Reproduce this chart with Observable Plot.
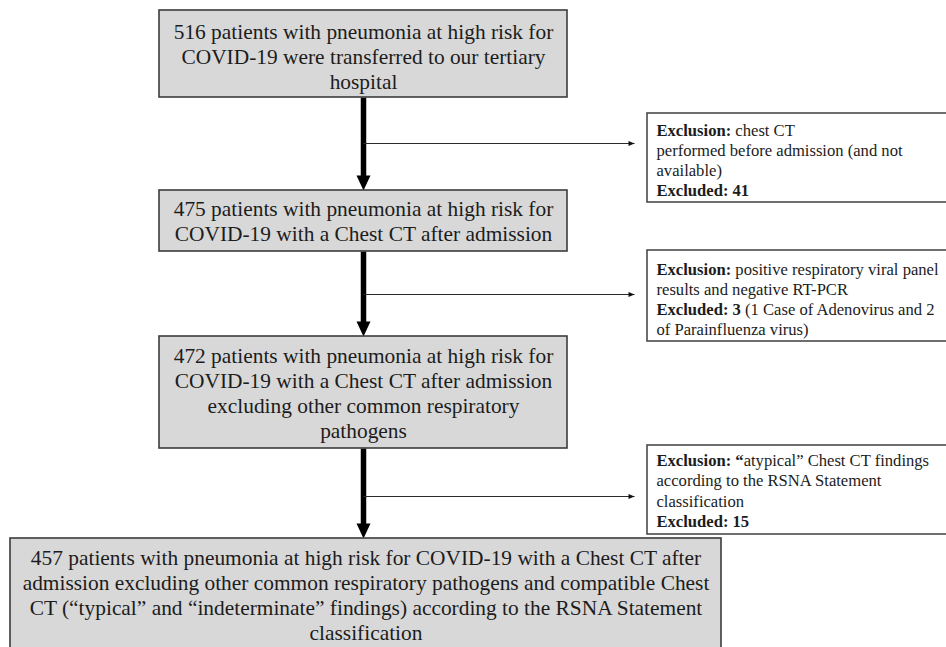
<!DOCTYPE html>
<html>
<head>
<meta charset="utf-8">
<script src="https://cdn.jsdelivr.net/npm/d3@7"></script>
<script src="https://cdn.jsdelivr.net/npm/@observablehq/plot@0.6"></script>
<style>
  html, body { margin: 0; padding: 0; background: #fff; overflow: hidden; }
  #chart svg { overflow: hidden; }
</style>
</head>
<body>
<div id="chart"></div>
<script>
// ---- Content (text of the flow diagram) ----
const patientCounts = [516, 475, 472, 457];
const mainText = [
  "516 patients with pneumonia at high risk for\nCOVID-19 were transferred to our tertiary\nhospital",
  "475 patients with pneumonia at high risk for\nCOVID-19 with a Chest CT after admission",
  "472 patients with pneumonia at high risk for\nCOVID-19 with a Chest CT after admission\nexcluding other common respiratory\npathogens",
  "457 patients with pneumonia at high risk for COVID-19 with a Chest CT after\nadmission excluding other common respiratory pathogens and compatible Chest\nCT (“typical” and “indeterminate” findings) according to the RSNA Statement\nclassification"
];
const excludedCounts = [41, 3, 15];
const exclusionText = [
  "**Exclusion:** chest CT\nperformed before admission (and not\navailable)\n**Excluded: 41**",
  "**Exclusion:** positive respiratory viral panel\nresults and negative RT-PCR\n**Excluded: 3** (1 Case of Adenovirus and 2\nof Parainfluenza virus)",
  "**Exclusion: “**atypical” Chest CT findings\naccording to the RSNA Statement\nclassification\n**Excluded: 15**"
];

// ---- Layout (pixel frame, identity scales) ----
const W = 946, H = 647;
const mainLayout = [
  {x1: 159, x2: 567, y1: 10,  y2: 97,  ty: 55.5},
  {x1: 159, x2: 567, y1: 190, y2: 251, ty: 220},
  {x1: 159, x2: 567, y1: 336, y2: 448, ty: 392},
  {x1: 10,  x2: 721, y1: 538, y2: 655, ty: 594}
];
const exclLayout = [
  {x1: 647, x2: 955, y1: 113, y2: 202, ty: 159},
  {x1: 647, x2: 955, y1: 250, y2: 341, ty: 298},
  {x1: 647, x2: 955, y1: 445, y2: 534, ty: 489.5}
];
const spineX = 363;
const branchY = [143, 294, 496];
const branchEndX = 634;

const mainBoxes = mainText.map((text, i) => ({text, count: patientCounts[i], ...mainLayout[i], cx: (mainLayout[i].x1 + mainLayout[i].x2) / 2}));
const exclBoxes = exclusionText.map((text, i) => ({text, count: excludedCounts[i], ...exclLayout[i]}));
const flows = d3.range(mainBoxes.length - 1).map(i => ({x: spineX, y1: mainBoxes[i].y2, y2: mainBoxes[i + 1].y1}));
const branches = branchY.map((y, i) => ({x1: spineX, x2: branchEndX, y, box: exclBoxes[i]}));

// Custom arrowhead symbols (tip at origin)
const headDown = {draw(ctx) { ctx.moveTo(-7, -15); ctx.lineTo(7, -15); ctx.lineTo(0, 0); ctx.closePath(); }};
const headRight = {draw(ctx) { ctx.moveTo(-6, -2.6); ctx.lineTo(0, 0); ctx.lineTo(-6, 2.6); ctx.closePath(); }};

const serif = "Liberation Serif, Times New Roman, DejaVu Serif, serif";

const plot = Plot.plot({
  width: W,
  height: H,
  margin: 0,
  x: {domain: [0, W], range: [0, W], axis: null},
  y: {domain: [0, H], range: [0, H], axis: null},
  style: {background: "#fff", fontFamily: serif},
  marks: [
    // thick flow lines
    Plot.link(flows, {x1: "x", x2: "x", y1: "y1", y2: d => d.y2 - 13, stroke: "#000", strokeWidth: 5.5}),
    Plot.dot(flows, {x: "x", y: "y2", symbol: headDown, fill: "#000", stroke: "none", r: 5}),
    // thin branch arrows
    Plot.link(branches, {x1: "x1", x2: "x2", y1: "y", y2: "y", stroke: "#2a2a2a", strokeWidth: 1.2}),
    Plot.dot(branches, {x: "x2", y: "y", symbol: headRight, fill: "#111", stroke: "none", r: 3}),
    // main (grey) boxes
    Plot.rect(mainBoxes, {x1: "x1", x2: "x2", y1: "y1", y2: "y2", fill: "#d8d8d8", stroke: "#3c3c3c", strokeWidth: 1.6}),
    Plot.text(mainBoxes, {x: "cx", y: "ty", text: "text", fontSize: 21.4, lineHeight: 1.18, fill: "#1c1c1c", textAnchor: "middle", lineAnchor: "middle", fontFamily: serif}),
    // exclusion (white) boxes
    Plot.rect(exclBoxes, {x1: "x1", x2: "x2", y1: "y1", y2: "y2", fill: "#fff", stroke: "#4a4a4a", strokeWidth: 1.6}),
    Plot.text(exclBoxes, {x: d => d.x1 + 9, y: "ty", text: "text", fontSize: 16.6, lineHeight: 1.22, fill: "#1c1c1c", textAnchor: "start", lineAnchor: "middle", fontFamily: serif})
  ]
});

// Turn **...** segments into bold tspans
const ns = "http://www.w3.org/2000/svg";
plot.querySelectorAll("text").forEach(t => {
  const leaves = t.querySelectorAll("tspan").length ? Array.from(t.querySelectorAll("tspan")) : [t];
  leaves.forEach(el => {
    const s = el.textContent;
    if (!s.includes("**")) return;
    el.textContent = "";
    s.split("**").forEach((part, i) => {
      if (!part) return;
      const sp = document.createElementNS(ns, "tspan");
      if (i % 2 === 1) sp.setAttribute("font-weight", "bold");
      sp.textContent = part;
      el.appendChild(sp);
    });
  });
});

document.getElementById("chart").appendChild(plot);
</script>
</body>
</html>
